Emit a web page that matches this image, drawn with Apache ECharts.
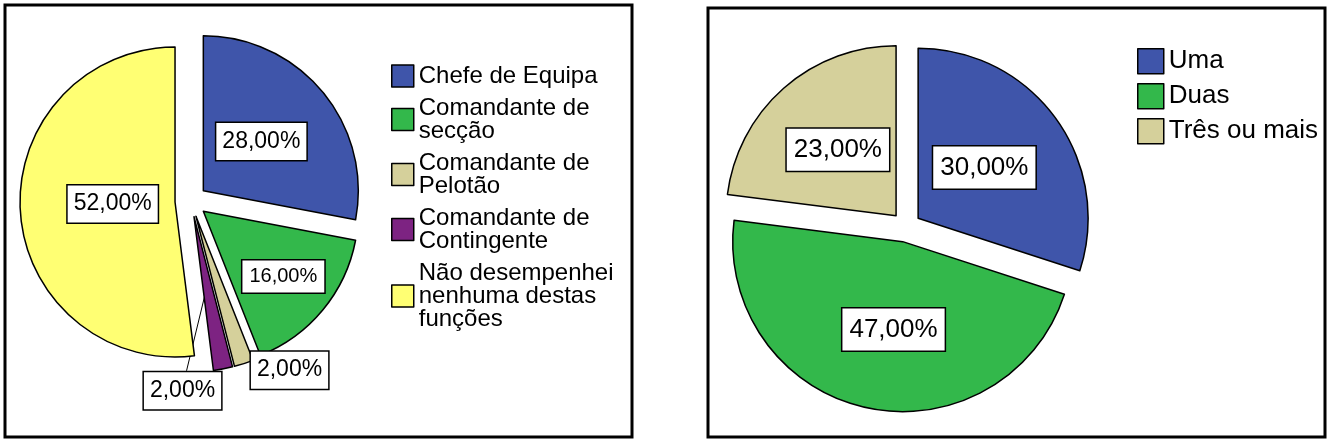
<!DOCTYPE html>
<html><head><meta charset="utf-8">
<script src="https://cdn.jsdelivr.net/npm/echarts@6/dist/echarts.min.js"></script>
<style>html,body{margin:0;padding:0;background:#fff}#c{width:1331px;height:443px}</style>
</head><body><div id="c"></div>
<script>
// Left chart: função desempenhada
const funcoesCategories = ['Chefe de Equipa', 'Comandante de\nsecção', 'Comandante de\nPelotão', 'Comandante de\nContingente', 'Não desempenhei\nnenhuma destas\nfunções'];
const funcoesValues = [28, 16, 2, 2, 52];
const funcoesColors = ['#3F55AA', '#33B84B', '#D5D09B', '#7D2382', '#FFFF73'];

// Right chart: número de missões
const missoesCategories = ['Uma', 'Duas', 'Três ou mais'];
const missoesValues = [30, 47, 23];
const missoesColors = ['#3F55AA', '#33B84B', '#D5D09B'];

const fmt = v => v.toFixed(2).replace('.', ',') + '%';

// label nudges relative to the library's default placement
const labelShift = [
  [[-4, 2], [18, 14], [-11, -3], [-96, 12], [18, -3]],
  [[-5, 1], [10, 2], [0, 0]]
];
const leftFontSizes = [23, 20, 23, 23, 23];

function buildData(names, values, colors, fontSizes, outsideIdx) {
  return names.map((n, i) => {
    const item = {
      name: n, value: values[i], selected: true,
      itemStyle: { color: colors[i] }
    };
    if (fontSizes) item.label = { fontSize: fontSizes[i], padding: fontSizes[i] < 23 ? [6, 7] : [7, 6] };
    if (outsideIdx.indexOf(i) >= 0) {
      item.label = { position: 'outside', fontSize: 23, padding: [7, 6] };
      item.labelLine = { show: i === 3, length: 10, length2: 10, lineStyle: { color: '#000', width: 1 } };
    }
    return item;
  });
}

const labelBase = {
  show: true, position: 'inside', color: '#000', fontFamily: 'Liberation Sans',
  backgroundColor: '#fff', borderColor: '#000', borderWidth: 1.5,
  formatter: p => fmt(p.value)
};
const itemBase = { borderColor: '#000', borderWidth: 1.5 };

function layoutFn(p) {
  const s = labelShift[p.seriesIndex][p.dataIndex];
  const res = { dx: s[0], dy: s[1] };
  if (p.seriesIndex === 0 && p.dataIndex === 3 && p.labelLinePoints) {
    const r = p.rect, l = p.labelRect;
    const sx = r.x + r.width * 0.3, sy = r.y + r.height * 0.5;
    const lx = l.x + s[0] + l.width * 0.55, ly = l.y + s[1];
    res.labelLinePoints = [[sx, sy], [sx, sy], [lx, ly]];
  }
  return res;
}

const chart = echarts.init(document.getElementById('c'), null, { renderer: 'canvas' });
chart.setOption({
  animation: false,
  backgroundColor: '#fff',
  graphic: [
    { type: 'rect', shape: { x: 5, y: 5, width: 627, height: 432 }, style: { fill: 'none', stroke: '#000', lineWidth: 3 }, z: 100 },
    { type: 'rect', shape: { x: 708, y: 8, width: 617, height: 429 }, style: { fill: 'none', stroke: '#000', lineWidth: 3 }, z: 100 }
  ],
  legend: [
    {
      data: funcoesCategories, orient: 'vertical', left: 391, top: 64, padding: 0,
      itemWidth: 22, itemHeight: 22, itemGap: 8, selectedMode: false, icon: 'rect',
      itemStyle: { borderColor: '#000', borderWidth: 1.5 },
      textStyle: { fontFamily: 'Liberation Sans', fontSize: 24, lineHeight: 23, color: '#000' }
    },
    {
      data: missoesCategories, orient: 'vertical', left: 1137, top: 48, padding: 0,
      itemWidth: 26, itemHeight: 25, itemGap: 8.5, selectedMode: false, icon: 'rect',
      itemStyle: { borderColor: '#000', borderWidth: 1.5 },
      textStyle: { fontFamily: 'Liberation Sans', fontSize: 26, lineHeight: 25, color: '#000' }
    }
  ],
  series: [
    {
      type: 'pie', center: [191, 201], radius: 155, startAngle: 90, clockwise: true,
      selectedMode: 'multiple', selectedOffset: 16, avoidLabelOverlap: false,
      emphasis: { disabled: true },
      itemStyle: itemBase, select: { itemStyle: itemBase },
      label: Object.assign({}, labelBase, { fontSize: 23, padding: [7, 6] }),
      labelLayout: layoutFn,
      data: buildData(funcoesCategories, funcoesValues, funcoesColors, leftFontSizes, [2, 3])
    },
    {
      type: 'pie', center: [906, 227], radius: 170, startAngle: 90, clockwise: true,
      selectedMode: 'multiple', selectedOffset: 15, avoidLabelOverlap: false,
      emphasis: { disabled: true },
      itemStyle: itemBase, select: { itemStyle: itemBase },
      label: Object.assign({}, labelBase, { fontSize: 26, padding: [8, 7] }),
      labelLayout: layoutFn,
      data: buildData(missoesCategories, missoesValues, missoesColors, null, [])
    }
  ]
});
</script>
</body></html>
